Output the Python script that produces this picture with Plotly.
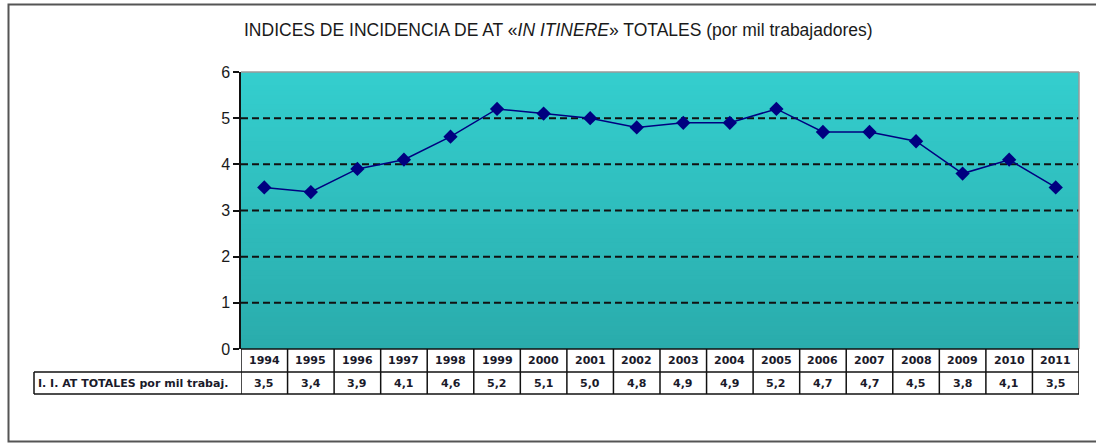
import plotly.graph_objects as go

# Data
years = ["1994", "1995", "1996", "1997", "1998", "1999", "2000", "2001", "2002",
         "2003", "2004", "2005", "2006", "2007", "2008", "2009", "2010", "2011"]
indices = [3.5, 3.4, 3.9, 4.1, 4.6, 5.2, 5.1, 5.0, 4.8,
           4.9, 4.9, 5.2, 4.7, 4.7, 4.5, 3.8, 4.1, 3.5]
y_ticks = [0, 1, 2, 3, 4, 5, 6]
grid_levels = [1, 2, 3, 4, 5]
row_label = "I. I. AT TOTALES por mil trabaj."
title_text = "INDICES DE INCIDENCIA DE AT «<i>IN ITINERE</i>» TOTALES (por mil trabajadores)"

W, H = 1096, 443


def px(x):
    return x / W


def py(y):
    return 1 - y / H


n = len(years)
x_idx = list(range(n))

# plot area (pixels)
PL, PR, PT, PB = 241, 1079, 72, 349
ROW1_B, ROW2_B = 372, 394
LABEL_L = 34

fig = go.Figure()
fig.add_trace(go.Scatter(
    x=x_idx, y=indices, mode="lines+markers",
    line=dict(color="#000080", width=1.5),
    marker=dict(symbol="diamond", size=11, color="#000080"),
    hoverinfo="skip", showlegend=False,
))

shapes = []

# vertical gradient background of the plot area
top_c = (52, 206, 206)
bot_c = (42, 172, 172)
steps = 60
for k in range(steps):
    t = k / (steps - 1)
    c = tuple(round(bot_c[j] + (top_c[j] - bot_c[j]) * t) for j in range(3))
    y0 = 6 * k / steps
    y1 = 6 * (k + 1) / steps + 0.02
    shapes.append(dict(type="rect", xref="x", yref="y", x0=-0.5, x1=n - 0.5,
                       y0=y0, y1=min(y1, 6), fillcolor="rgb(%d,%d,%d)" % c,
                       line=dict(width=0), layer="below"))

# dashed grid lines
for g in grid_levels:
    shapes.append(dict(type="line", xref="x", yref="y", x0=-0.5, x1=n - 0.5,
                       y0=g, y1=g, line=dict(color="#111111", width=2, dash="7px,4px"),
                       layer="below"))

# plot area frame (top / right in grey)
shapes.append(dict(type="line", xref="paper", yref="paper", x0=px(PL), x1=px(PR),
                   y0=py(PT), y1=py(PT), line=dict(color="#9a9a9a", width=1.5)))
shapes.append(dict(type="line", xref="paper", yref="paper", x0=px(PR), x1=px(PR),
                   y0=py(PT), y1=py(PB), line=dict(color="#9a9a9a", width=1.5)))

# data table grid
tbl = dict(color="#111111", width=1.5)
shapes.append(dict(type="line", xref="paper", yref="paper", x0=px(PL), x1=px(PR),
                   y0=py(PB), y1=py(PB), line=tbl))
for yy in (ROW1_B, ROW2_B):
    shapes.append(dict(type="line", xref="paper", yref="paper", x0=px(LABEL_L), x1=px(PR),
                       y0=py(yy), y1=py(yy), line=tbl))
for i in range(n + 1):
    shapes.append(dict(type="line", xref="x", yref="paper", x0=i - 0.5, x1=i - 0.5,
                       y0=py(PB), y1=py(ROW2_B), line=tbl))
shapes.append(dict(type="line", xref="paper", yref="paper", x0=px(LABEL_L), x1=px(LABEL_L),
                   y0=py(ROW1_B), y1=py(ROW2_B), line=tbl))

# outer frame
shapes.append(dict(type="rect", xref="paper", yref="paper", x0=px(8.5), x1=1.01,
                   y0=py(441.5), y1=py(4.5), line=dict(color="#555555", width=2)))

annotations = []
annotations.append(dict(text=title_text, xref="paper", yref="paper", x=px(558), y=py(30),
                        showarrow=False, xanchor="center", yanchor="middle",
                        font=dict(family="Liberation Sans, Arial", size=17.5, color="#1a1a1a")))

cell_font = dict(family="DejaVu Sans, Verdana", size=11, color="#1a1a2a")
for i, (yr, v) in enumerate(zip(years, indices)):
    annotations.append(dict(text="<b>%s</b>" % yr, xref="x", yref="paper", x=i,
                            y=py((PB + ROW1_B) / 2), showarrow=False,
                            xanchor="center", yanchor="middle", font=cell_font))
    annotations.append(dict(text="<b>%s</b>" % ("%.1f" % v).replace(".", ","), xref="x",
                            yref="paper", x=i, y=py((ROW1_B + ROW2_B) / 2), showarrow=False,
                            xanchor="center", yanchor="middle", font=cell_font))
annotations.append(dict(text="<b>%s</b>" % row_label, xref="paper", yref="paper",
                        x=px(LABEL_L + 2), y=py((ROW1_B + ROW2_B) / 2), showarrow=False,
                        xanchor="left", yanchor="middle", font=cell_font))

fig.update_layout(
    width=W, height=H,
    margin=dict(l=0, r=0, t=0, b=0, pad=0, autoexpand=False),
    paper_bgcolor="white", plot_bgcolor="rgba(0,0,0,0)",
    shapes=shapes, annotations=annotations,
    showlegend=False,
    xaxis=dict(domain=[px(PL), px(PR)], range=[-0.5, n - 0.5], showticklabels=False,
               showgrid=False, zeroline=False, showline=False, ticks="", automargin=False),
    yaxis=dict(domain=[py(PB), py(PT)], range=[0, 6], tickvals=y_ticks,
               ticks="outside", ticklen=6, tickwidth=1.5, tickcolor="#111111",
               showline=True, linecolor="#111111", linewidth=1.5,
               showgrid=False, zeroline=False, automargin=False,
               tickfont=dict(family="Liberation Sans, Arial", size=16, color="#1a1a1a")),
)

fig.write_html("out.html")
